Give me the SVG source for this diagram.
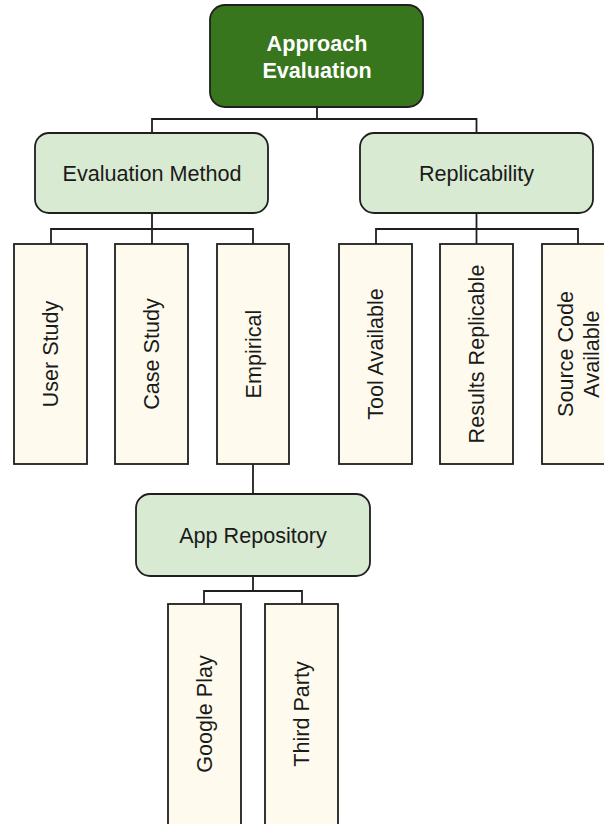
<svg xmlns="http://www.w3.org/2000/svg" width="604" height="824" viewBox="0 0 604 824">
  <style>
    .root { fill: #38761d; stroke: #1f1f1f; stroke-width: 1.8; }
    .cat { fill: #d9ead3; stroke: #1f1f1f; stroke-width: 1.8; }
    .leaf { fill: #fefbee; stroke: #1f1f1f; stroke-width: 1.8; }
    .lbl { font-family: "Liberation Sans", Arial, sans-serif; font-size: 21.6px; fill: #1a1a1a; text-anchor: middle; }
    .rootlbl { font-family: "Liberation Sans", Arial, sans-serif; font-size: 21.6px; font-weight: bold; fill: #ffffff; text-anchor: middle; }
    .conn { fill: none; stroke: #1f1f1f; stroke-width: 1.8; }
  </style>

  <!-- tree connectors -->
  <g id="connectors">
    <path class="conn" d="M317,107 V119 H152 V133"/>
    <path class="conn" d="M317,119 H476.5 V133"/>
    <path class="conn" d="M152,213 V229 H51 V244"/>
    <path class="conn" d="M152,229 V244"/>
    <path class="conn" d="M152,229 H253 V244"/>
    <path class="conn" d="M476.5,213 V229 H376 V244"/>
    <path class="conn" d="M476.5,229 V244"/>
    <path class="conn" d="M476.5,229 H578 V244"/>
    <path class="conn" d="M253,464 V494"/>
    <path class="conn" d="M253,576 V591 H204 V604"/>
    <path class="conn" d="M253,591 H302 V604"/>
  </g>

  <g id="approach-evaluation">
    <rect class="root" x="210" y="5" width="213" height="102" rx="15"/>
    <text class="rootlbl" x="317" y="51">Approach</text>
    <text class="rootlbl" x="317" y="77.5">Evaluation</text>
  </g>

  <g id="evaluation-method">
    <rect class="cat" x="35" y="133" width="233" height="80" rx="14"/>
    <text class="lbl" x="152" y="181">Evaluation Method</text>
  </g>

  <g id="replicability">
    <rect class="cat" x="360" y="133" width="233" height="80" rx="14"/>
    <text class="lbl" x="476.5" y="181">Replicability</text>
  </g>

  <g id="user-study">
    <rect class="leaf" x="14" y="244" width="73" height="220"/>
    <text class="lbl" transform="translate(58.3,354) rotate(-90)">User Study</text>
  </g>

  <g id="case-study">
    <rect class="leaf" x="115" y="244" width="73" height="220"/>
    <text class="lbl" transform="translate(159.3,354) rotate(-90)">Case Study</text>
  </g>

  <g id="empirical">
    <rect class="leaf" x="217" y="244" width="72" height="220"/>
    <text class="lbl" transform="translate(260.8,354) rotate(-90)">Empirical</text>
  </g>

  <g id="tool-available">
    <rect class="leaf" x="339" y="244" width="73" height="220"/>
    <text class="lbl" transform="translate(383.3,354) rotate(-90)">Tool Available</text>
  </g>

  <g id="results-replicable">
    <rect class="leaf" x="440" y="244" width="73" height="220"/>
    <text class="lbl" transform="translate(484.3,354) rotate(-90)">Results Replicable</text>
  </g>

  <g id="source-code-available">
    <rect class="leaf" x="542" y="244" width="73" height="220"/>
    <text class="lbl" transform="translate(572.5,354) rotate(-90)">Source Code</text>
    <text class="lbl" transform="translate(598.5,354) rotate(-90)">Available</text>
  </g>

  <g id="app-repository">
    <rect class="cat" x="136" y="494" width="234" height="82" rx="14"/>
    <text class="lbl" x="253" y="543">App Repository</text>
  </g>

  <g id="google-play">
    <rect class="leaf" x="168" y="604" width="73" height="222"/>
    <text class="lbl" transform="translate(212.3,714) rotate(-90)">Google Play</text>
  </g>

  <g id="third-party">
    <rect class="leaf" x="265" y="604" width="73" height="222"/>
    <text class="lbl" transform="translate(309.3,714) rotate(-90)">Third Party</text>
  </g>
</svg>
